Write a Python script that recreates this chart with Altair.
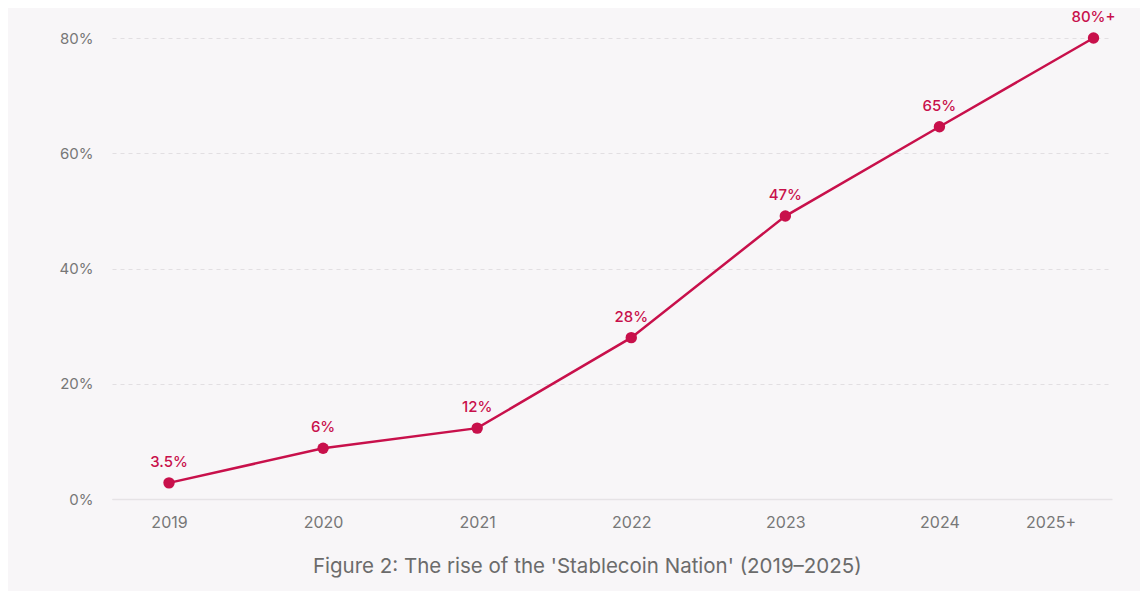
import json
import altair as alt
import pandas as pd

years = ["2019", "2020", "2021", "2022", "2023", "2024", "2025+"]
values = [2.8, 8.8, 12.3, 28.0, 49.1, 64.6, 80.0]
labels = ["3.5%", "6%", "12%", "28%", "47%", "65%", "80%+"]
y_ticks = [0, 20, 40, 60, 80]

df = pd.DataFrame({
    "idx": list(range(len(years))),
    "year": years,
    "value": values,
    "label": labels,
})

RED = "#c8104b"
FONT = "Inter"

label_expr = json.dumps(years) + "[datum.value]"

x = alt.X(
    "idx:Q",
    scale=alt.Scale(domain=[-0.37, 6.12], nice=False, zero=False),
    axis=alt.Axis(
        values=list(range(len(years))),
        labelExpr=label_expr,
        labelOffset={"condition": {"test": "datum.value == 6", "value": -43}, "value": 0},
        title=None,
        grid=False,
        ticks=False,
        domain=True,
        domainColor="#e6e3e6",
        domainWidth=1.5,
        labelPadding=15,
        labelFontSize=16,
        labelColor="#777777",
        labelFont=FONT,
    ),
)
y = alt.Y(
    "value:Q",
    scale=alt.Scale(domain=[0, 80], nice=False),
    axis=alt.Axis(
        values=y_ticks,
        labelExpr="datum.value + '%'",
        title=None,
        grid=True,
        gridColor="#e2dfe2",
        gridDash=[4, 4],
        gridWidth=1,
        ticks=False,
        domain=False,
        labelPadding=19,
        labelFontSize=15,
        labelColor="#777777",
        labelFont=FONT,
    ),
)

base = alt.Chart(df).encode(x=x, y=y)

line = base.mark_line(color=RED, strokeWidth=2.5)
points = base.mark_point(filled=True, color=RED, size=130, opacity=1)
texts = base.mark_text(
    dy=-21, fontSize=15, fontWeight=500, color=RED, font=FONT
).encode(text="label:N")

chart = (
    alt.layer(line, points, texts)
    .properties(
        width=1000,
        height=461,
        autosize=alt.AutoSizeParams(type="none"),
        padding={"left": 104, "top": 30, "right": 28, "bottom": 92},
        background="#f8f6f8",
        title=alt.TitleParams(
            "Figure 2: The rise of the 'Stablecoin Nation' (2019–2025)",
            orient="bottom",
            anchor="middle",
            frame="bounds",
            font=FONT,
            fontSize=20.5,
            fontWeight="normal",
            color="#6b6b6b",
            offset=27,
        ),
    )
    .configure_view(stroke=None)
)

chart.save("out.html", embed_options={"renderer": "svg", "actions": False})
